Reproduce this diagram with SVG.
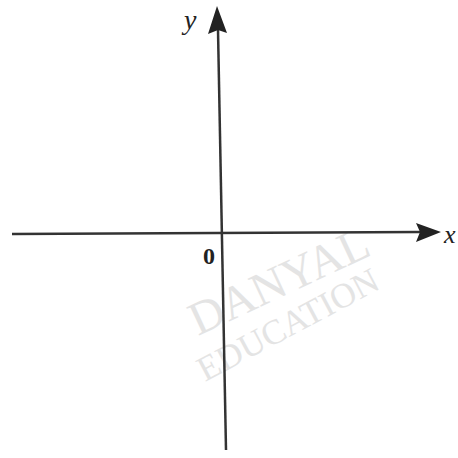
<svg xmlns="http://www.w3.org/2000/svg" width="458" height="458" viewBox="0 0 458 458">
<style>
.axis{stroke:#333;stroke-width:2.5;fill:none}
.head{fill:#222}
.lbl{font-family:"Liberation Serif",serif;fill:#222}
.wm{font-family:"Liberation Serif",serif;fill:#e4e4e4}
</style>
<rect width="458" height="458" fill="#fff"/>
<g id="watermark">
<text class="wm" font-size="47" transform="translate(198,336) rotate(-25)">DANYAL</text>
<text class="wm" font-size="35" transform="translate(205,382) rotate(-28)">EDUCATION</text>
</g>
<g id="connectors">
<line class="axis" x1="12" y1="234" x2="420" y2="232"/>
<line class="axis" x1="218" y1="30" x2="226" y2="450"/>
</g>
<g id="x-axis-head"><polygon class="head" points="441,232 416,223 420,232 416,242"/></g>
<g id="y-axis-head"><polygon class="head" points="217,6 208,34 218,30 227,33"/></g>
<g id="labels">
<text class="lbl" x="184" y="29" font-size="28" font-style="italic">y</text>
<text class="lbl" x="444" y="243" font-size="26" font-style="italic">x</text>
<text class="lbl" x="203" y="264" font-size="24" font-weight="bold">0</text>
</g>
</svg>
